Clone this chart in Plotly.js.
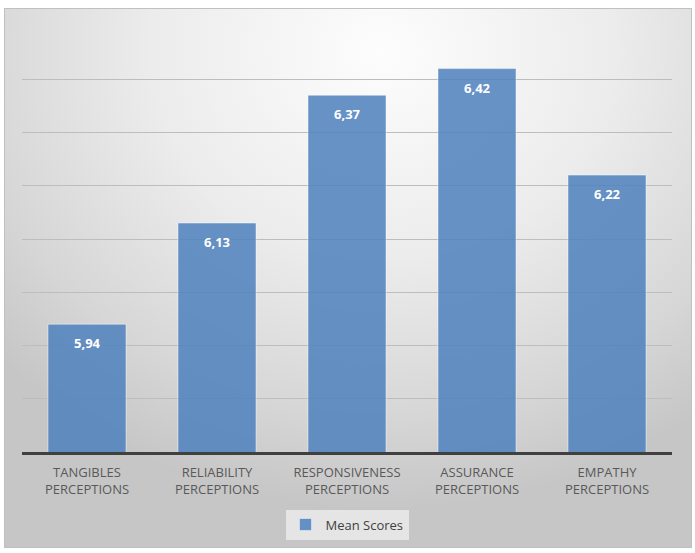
<!DOCTYPE html>
<html>
<head>
<meta charset="utf-8">
<script src="https://cdn.plot.ly/plotly-3.0.1.min.js"></script>
<style>
  html, body { margin: 0; padding: 0; background: #ffffff; width: 695px; height: 553px; overflow: hidden; }
  #bg {
    position: absolute; left: 4px; top: 8px; width: 686px; height: 538px;
    border: 1px solid #c0c0c0;
    background: radial-gradient(ellipse 75% 85% at 55% 8%, #fdfdfd 0%, #ececec 45%, #d6d6d6 80%, #c6c6c6 100%);
  }
  #chart { position: absolute; left: 0; top: 0; width: 695px; height: 553px; }
</style>
</head>
<body>
<div id="bg"></div>
<div id="chart"></div>
<script>
const categories = ['TANGIBLES<br>PERCEPTIONS', 'RELIABILITY<br>PERCEPTIONS', 'RESPONSIVENESS<br>PERCEPTIONS', 'ASSURANCE<br>PERCEPTIONS', 'EMPATHY<br>PERCEPTIONS'];
const meanScores = [5.94, 6.13, 6.37, 6.42, 6.22];
const seriesName = 'Mean Scores';

const trace = {
  type: 'bar',
  x: categories,
  y: meanScores,
  name: seriesName,
  width: 0.6,
  marker: { color: 'rgba(79,129,189,0.86)', line: { color: 'rgba(255,255,255,0.45)', width: 1 } },
  hoverinfo: 'skip',
  showlegend: true
};

const annotations = categories.map((c, i) => ({
  x: c, y: meanScores[i], xref: 'x', yref: 'y',
  text: '<b>' + meanScores[i].toFixed(2).replace('.', ',') + '</b>',
  showarrow: false, yanchor: 'top', yshift: -8,
  font: { family: 'Open Sans, Liberation Sans, sans-serif', size: 13, color: '#ffffff' }
}));

const layout = {
  width: 695, height: 553,
  margin: { l: 22, r: 23, t: 26, b: 101 },
  paper_bgcolor: 'rgba(0,0,0,0)',
  plot_bgcolor: 'rgba(0,0,0,0)',
  bargap: 0.4,
  xaxis: {
    type: 'category',
    showgrid: false, zeroline: false,
    showline: true, linecolor: '#404040', linewidth: 3,
    ticks: '', ticklabelstandoff: 6,
    tickfont: { family: 'Open Sans, Liberation Sans, sans-serif', size: 13, color: '#595959' }
  },
  yaxis: {
    range: [5.7, 6.5], dtick: 0.1, tick0: 5.7,
    showticklabels: false, ticks: '',
    showgrid: true, gridcolor: '#bdbdbd', gridwidth: 1,
    zeroline: false, showline: false
  },
  showlegend: true,
  legend: {
    orientation: 'h', x: 0.5, xanchor: 'center', y: -0.135, yanchor: 'top',
    bgcolor: 'rgba(232,232,232,0.9)',
    font: { family: 'Open Sans, Liberation Sans, sans-serif', size: 13, color: '#404040' },
    itemwidth: 30
  },
  annotations: annotations
};

Plotly.newPlot('chart', [trace], layout, { staticPlot: true, displayModeBar: false });
</script>
</body>
</html>
